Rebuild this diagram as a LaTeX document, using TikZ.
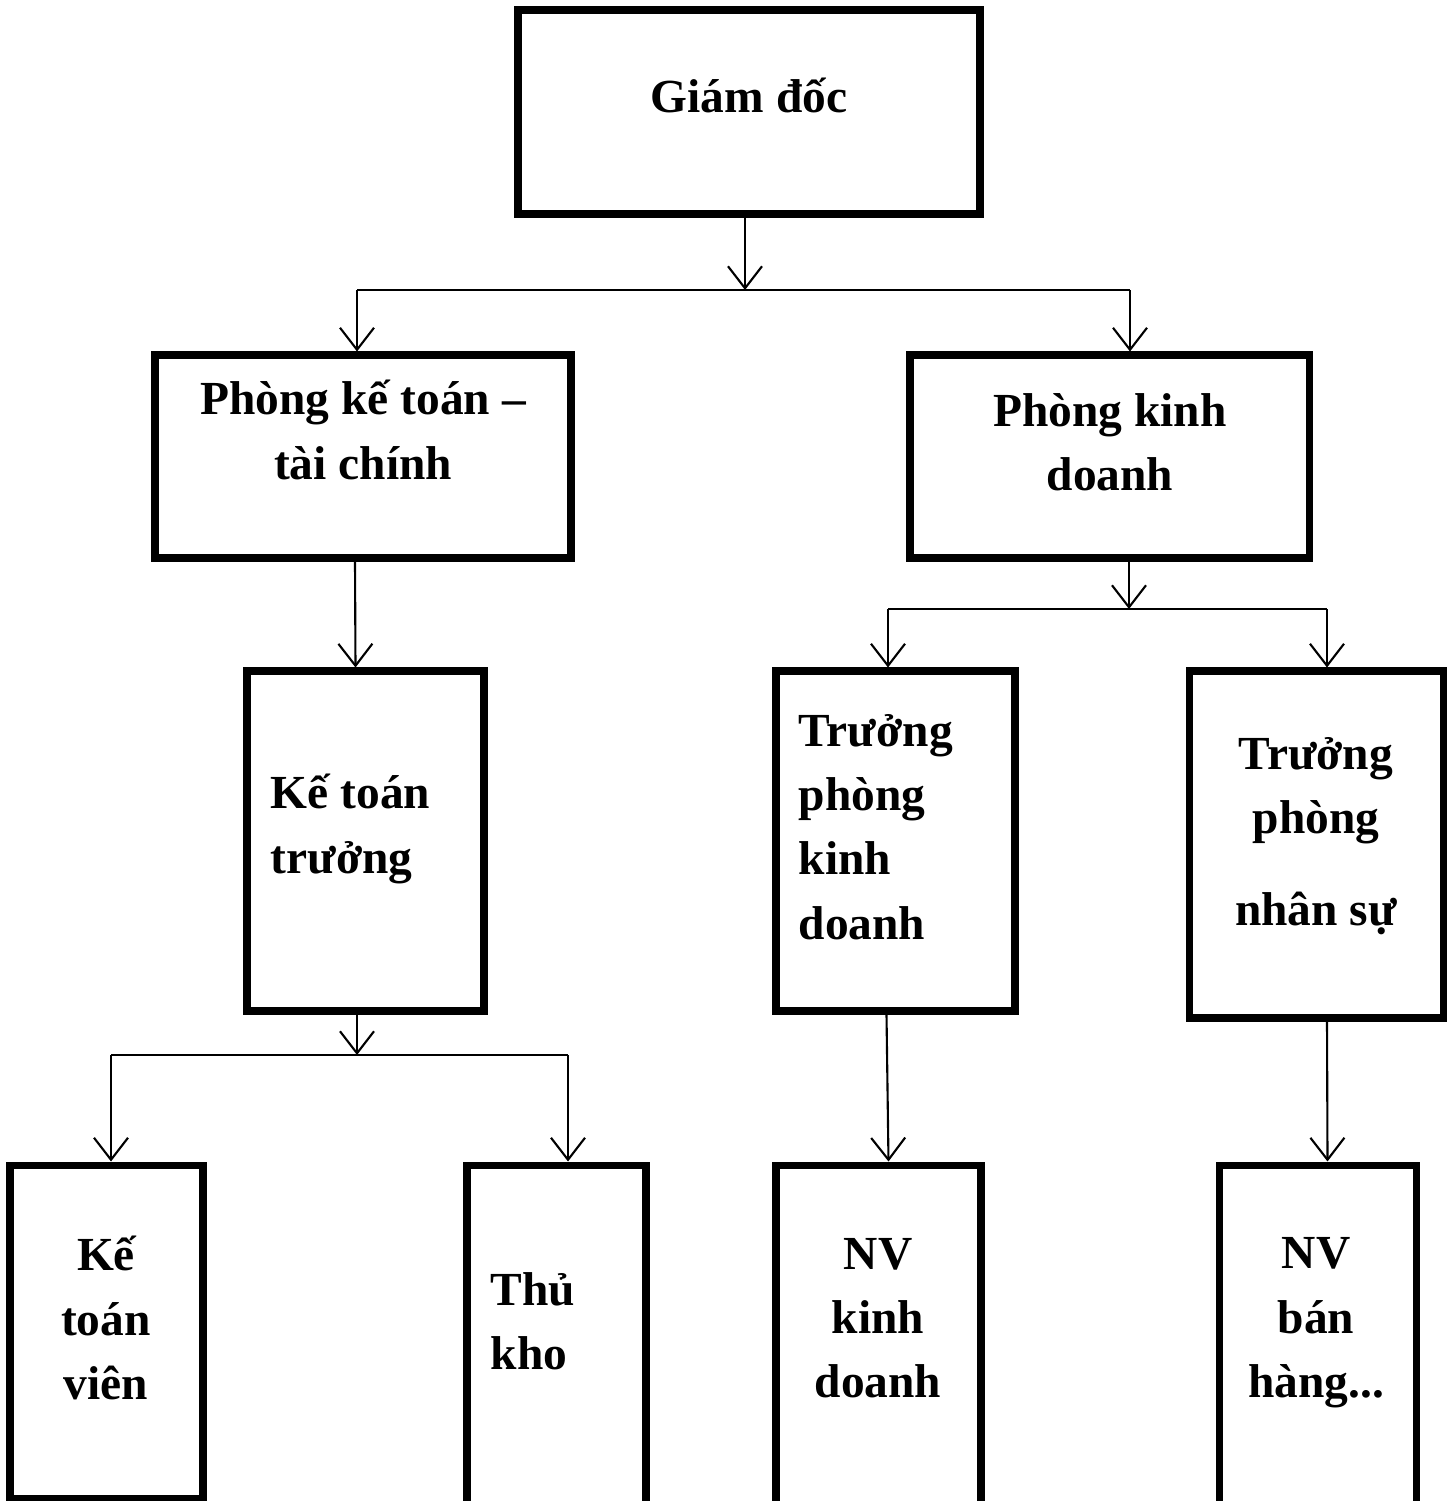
\documentclass[tikz,border=0pt]{standalone}
\usepackage{fontspec}
\setmainfont{Liberation Serif}
\usetikzlibrary{arrows.meta,positioning}

\begin{document}
\begin{tikzpicture}[
    >={Straight Barb[length=2.2mm,width=3.4mm]},
    box/.style = {draw, line width=2pt, inner sep=0pt},
    txt/.style = {font=\fontsize{13.5}{18.3}\selectfont\bfseries, inner sep=0pt},
    lnk/.style = {line width=0.6pt}
  ]
  \clip (0,0) rectangle (14.5,-15.01);

  % boxes
  \node[box, minimum width=4.62cm, minimum height=2.04cm] (gd)   at (7.49,-1.12)   {};
  \node[box, minimum width=4.16cm, minimum height=2.03cm] (pkt)  at (3.63,-4.565)  {};
  \node[box, minimum width=3.99cm, minimum height=2.03cm] (pkd)  at (11.095,-4.565) {};
  \node[box, minimum width=2.37cm, minimum height=3.40cm] (ktt)  at (3.655,-8.41)  {};
  \node[box, minimum width=2.39cm, minimum height=3.40cm] (tpkd) at (8.955,-8.41)  {};
  \node[box, minimum width=2.54cm, minimum height=3.47cm] (tpns) at (13.16,-8.445) {};
  \node[box, minimum width=1.93cm, minimum height=3.33cm] (ktv)  at (1.065,-13.315) {};
  \node[box, minimum width=1.79cm, minimum height=3.75cm] (tk)   at (5.565,-13.525) {};
  \node[box, minimum width=2.05cm, minimum height=3.75cm] (nvkd) at (8.785,-13.525) {};
  \node[box, minimum width=1.97cm, minimum height=3.75cm] (nvbh) at (13.175,-13.525) {};

  % texts
  \node[txt]                          (gd_t)   at (7.49,-0.95)  {Giám đốc};
  \node[txt, align=center]            (pkt_t)  at (3.63,-4.30)  {Phòng kế toán –\\tài chính};
  \node[txt, align=center]            (pkd_t)  at (11.10,-4.42) {Phòng kinh\\doanh};
  \node[txt, align=left, anchor=west] (ktt_t)  at (2.70,-8.29)  {Kế toán\\trưởng};
  \node[txt, align=left, anchor=west] (tpkd_t) at (7.98,-8.27)  {Trưởng\\phòng\\kinh\\doanh};
  \node[txt, align=center]            (tpns_t) at (13.16,-8.36) {Trưởng\\phòng\\[0.27cm]nhân sự};
  \node[txt, align=center]            (ktv_t)  at (1.06,-13.18) {Kế\\toán\\viên};
  \node[txt, align=left, anchor=west] (tk_t)   at (4.90,-13.21) {Thủ\\kho};
  \node[txt, align=center]            (nvkd_t) at (8.78,-13.18) {NV\\kinh\\doanh};
  \node[txt, align=center]            (nvbh_t) at (13.16,-13.23) {NV\\bán\\hàng...};

  % branch points
  \coordinate (j1)  at (7.45,-2.90);
  \coordinate (j1l) at (3.57,-2.90);
  \coordinate (j1r) at (11.30,-2.90);
  \coordinate (j2)  at (11.29,-6.09);
  \coordinate (j2l) at (8.88,-6.09);
  \coordinate (j2r) at (13.27,-6.09);
  \coordinate (j3)  at (3.57,-10.55);
  \coordinate (j3l) at (1.11,-10.55);
  \coordinate (j3r) at (5.68,-10.55);

  % connectors
  \draw[lnk,->] (j1 |- gd.south) -- (j1);
  \draw[lnk] (j1l) -- (j1r);
  \draw[lnk,->] (j1l) -- (j1l |- pkt.north);
  \draw[lnk,->] (j1r) -- (j1r |- pkd.north);

  \draw[lnk,->] ([xshift=-0.08cm]pkt.south) -- ([xshift=-0.1cm]ktt.north);

  \draw[lnk,->] (j2 |- pkd.south) -- (j2);
  \draw[lnk] (j2l) -- (j2r);
  \draw[lnk,->] (j2l) -- (j2l |- tpkd.north);
  \draw[lnk,->] (j2r) -- (j2r |- tpns.north);

  \draw[lnk,->] (j3 |- ktt.south) -- (j3);
  \draw[lnk] (j3l) -- (j3r);
  \draw[lnk,->] (j3l) -- (j3l |- ktv.north);
  \draw[lnk,->] (j3r) -- (j3r |- tk.north);

  \draw[lnk,->] ([xshift=-0.09cm]tpkd.south) -- ([xshift=0.1cm]nvkd.north);
  \draw[lnk,->] ([xshift=0.11cm]tpns.south) -- ([xshift=0.1cm]nvbh.north);
\end{tikzpicture}
\end{document}
